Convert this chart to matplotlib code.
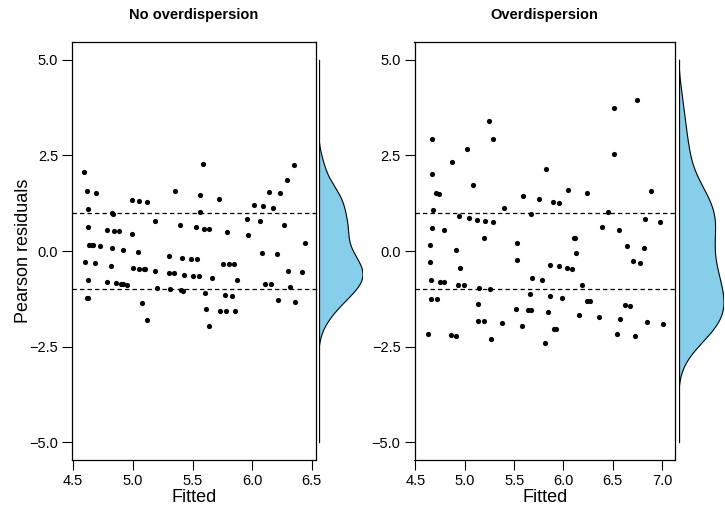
import numpy as np
import matplotlib
matplotlib.use("Agg")
import matplotlib.pyplot as plt

plt.rcParams['font.family'] = ['Liberation Sans', 'DejaVu Sans']

# ---------------- data ----------------
left_fitted = [4.587, 4.615, 4.69, 4.625, 4.62, 4.634, 4.654, 4.67, 4.726, 4.60,
               4.68, 4.62, 4.615, 4.625, 4.78, 4.826, 4.834, 4.843, 4.882, 4.826,
               4.818, 4.92, 4.784, 4.855, 4.90, 4.92, 4.955, 4.997, 5.052, 5.116,
               4.993, 5.04, 5.005, 5.052, 5.094, 5.105, 5.186, 5.183, 5.205, 5.08,
               5.116, 5.353, 5.30, 5.306, 5.344, 5.309, 5.395, 5.415, 5.428, 5.403,
               5.417, 5.484, 5.537, 5.507, 5.553, 5.528, 5.587, 5.562, 5.562, 5.60,
               5.637, 5.607, 5.613, 5.635, 5.662, 5.72, 5.788, 5.757, 5.804, 5.85,
               5.875, 5.77, 5.833, 5.727, 5.78, 5.858, 5.958, 5.963, 6.013, 6.063,
               6.094, 6.145, 6.178, 6.23, 6.295, 6.348, 6.264, 6.08, 6.206, 6.304,
               6.109, 6.159, 6.318, 6.214, 6.356, 6.42, 6.446]
left_resid = [2.06, 1.57, 1.53, 1.10, 0.635, 0.155, 0.15, 0.15, 0.12, -0.28,
              -0.32, -0.76, -1.22, -1.23, 0.556, 0.99, 0.98, 0.53, 0.52, 0.075,
              -0.38, 0.03, -0.82, -0.84, -0.86, -0.87, -0.88, 1.34, 1.31, 1.27,
              0.44, -0.02, -0.44, -0.46, -0.47, -0.47, -0.53, 0.79, -0.97, -1.37,
              -1.81, 1.57, -0.13, -0.58, -0.58, -1.0, 0.69, -0.18, -0.62, -1.03,
              -1.04, -0.21, -0.22, -0.65, -0.66, 0.63, 2.28, 1.46, 1.03, 0.58,
              0.57, -1.105, -1.525, -1.955, -0.695, 1.37, 0.50, -0.33, -0.34, -0.35,
              -0.77, -1.16, -1.17, -1.56, -1.57, -1.58, 0.84, 0.425, 1.21, 0.78,
              1.17, 1.545, 1.125, 1.51, 1.87, 2.24, 0.69, -0.04, -0.08, -0.52,
              -0.86, -0.87, -0.93, -1.29, -1.33, -0.56, 0.215]

right_fitted = [4.622, 4.666, 4.666, 4.703, 4.737, 4.682, 4.669, 4.652, 4.646, 4.659,
                4.662, 4.723, 4.75, 4.794, 4.791, 4.865, 4.909, 4.953, 4.93, 4.99,
                4.944, 5.02, 4.859, 4.915, 5.041, 5.082, 5.128, 5.203, 5.199, 5.145,
                5.138, 5.132, 5.193, 5.24, 5.288, 5.285, 5.26, 5.27, 5.396, 5.378,
                5.533, 5.533, 5.523, 5.58, 5.589, 5.672, 5.685, 5.662, 5.645, 5.672,
                5.756, 5.787, 5.827, 5.862, 5.848, 5.862, 5.817, 5.892, 5.956, 5.956,
                5.905, 5.929, 5.989, 6.04, 6.09, 6.043, 6.106, 6.12, 6.127, 6.184,
                6.24, 6.243, 6.273, 6.155, 6.36, 6.389, 6.452, 6.516, 6.516, 6.561,
                6.54, 6.577, 6.625, 6.672, 6.645, 6.706, 6.74, 6.72, 6.776, 6.814,
                6.824, 6.847, 6.89, 6.982, 7.012]
right_resid = [-2.16, 2.94, 2.01, 1.52, 1.50, 1.06, 0.61, 0.16, -0.30, -0.77,
               -1.25, -1.26, -0.82, -0.82, 0.54, 2.32, 0.035, -0.44, -0.88, -0.89,
               0.92, 2.68, -2.21, -2.23, 0.87, 1.74, 0.82, 0.78, 0.34, -0.96,
               -1.39, -1.82, -1.84, 3.39, 2.92, 0.75, -0.99, -2.30, 1.12, -1.89,
               0.20, -0.24, -1.51, -1.95, 1.44, 0.97, -0.71, -1.12, -1.54, -1.54,
               1.36, -0.75, 2.15, -0.36, -1.59, -1.18, -2.42, 1.28, 1.25, -0.39,
               -2.03, -2.03, -1.23, -0.44, -0.46, 1.60, 0.35, 0.35, -0.06, -0.895,
               1.51, -1.30, -1.30, -1.68, -1.74, 0.64, 1.01, 3.73, 2.54, 0.56,
               -2.17, -1.79, -1.42, -1.43, 0.14, -0.27, 3.96, -2.22, -0.31, 0.07,
               0.83, -1.86, 1.56, 0.76, -1.90]

titles = ["No overdispersion", "Overdispersion"]
left_xticks = [4.5, 5.0, 5.5, 6.0, 6.5]
right_xticks = [4.5, 5.0, 5.5, 6.0, 6.5, 7.0]
yticks = [-5.0, -2.5, 0.0, 2.5, 5.0]
ref_lines = [-1.0, 1.0]

# ---------------- layout ----------------
W, H = 725, 505
fig = plt.figure(figsize=(W / 100, H / 100), dpi=100)


def rect(x0, y0, x1, y1):
    return [x0 / W, 1 - y1 / H, (x1 - x0) / W, (y1 - y0) / H]


def kde(vals, grid):
    v = np.asarray(vals)
    n = len(v)
    sd = v.std(ddof=1)
    iqr = np.subtract(*np.percentile(v, [75, 25]))
    bw = 0.9 * min(sd, iqr / 1.34) * n ** (-0.2)
    z = (grid[:, None] - v[None, :]) / bw
    return np.exp(-0.5 * z ** 2).sum(axis=1) / (n * bw * np.sqrt(2 * np.pi))


YLIM = (-5.47, 5.47)
panels = [
    (left_fitted, left_resid, left_xticks, (4.49, 6.535), (72, 316), (318.5, 363)),
    (right_fitted, right_resid, right_xticks, (4.49, 7.13), (414.5, 675), (678.5, 724)),
]

fs_tick = 10.5
for i, (fx, ry, xt, xlim, (ax0, ax1), (d0, d1)) in enumerate(panels):
    ax = fig.add_axes(rect(ax0, 42, ax1, 460))
    ax.scatter(fx, ry, s=14, color='black', linewidths=0, zorder=3)
    for r in ref_lines:
        ax.axhline(r, color='black', lw=0.9, ls=(0, (3.5, 2.5)), zorder=2)
    ax.set_xlim(*xlim)
    ax.set_ylim(*YLIM)
    ax.set_xticks(xt)
    ax.set_xticklabels([f"{t:.1f}" for t in xt], fontsize=fs_tick)
    ax.set_yticks(yticks)
    ax.set_yticklabels([f"{t:.1f}".replace('-', '\u2212') for t in yticks], fontsize=fs_tick)
    ax.tick_params(axis='both', length=7, width=0.8, color='black', pad=3)
    for sp in ax.spines.values():
        sp.set_linewidth(0.9)
    cx = (ax0 + ax1) / 2
    fig.text(cx / W, 1 - 15 / H, titles[i], ha='center', va='center',
             fontsize=10.5, fontweight='bold')
    fig.text(cx / W, 1 - 498 / H, "Fitted", ha='center', va='center', fontsize=13)

    # marginal density
    grid = np.linspace(-5, 5, 512)
    dens = kde(ry, grid)
    dax = fig.add_axes(rect(d0, 42, d1, 460))
    dax.fill_betweenx(grid, 0, dens, facecolor='#87CEEB', edgecolor='none')
    dax.plot(dens, grid, color='black', lw=0.8)
    dax.plot([0, 0], [grid[0], grid[-1]], color='black', lw=0.9)
    dax.set_xlim(0, dens.max() * 1.0)
    dax.set_ylim(*YLIM)
    dax.axis('off')

fig.text(24 / W, 1 - 251 / H, "Pearson residuals", rotation=90,
         ha='center', va='center', fontsize=13)

fig.savefig("out.png", dpi=100)
